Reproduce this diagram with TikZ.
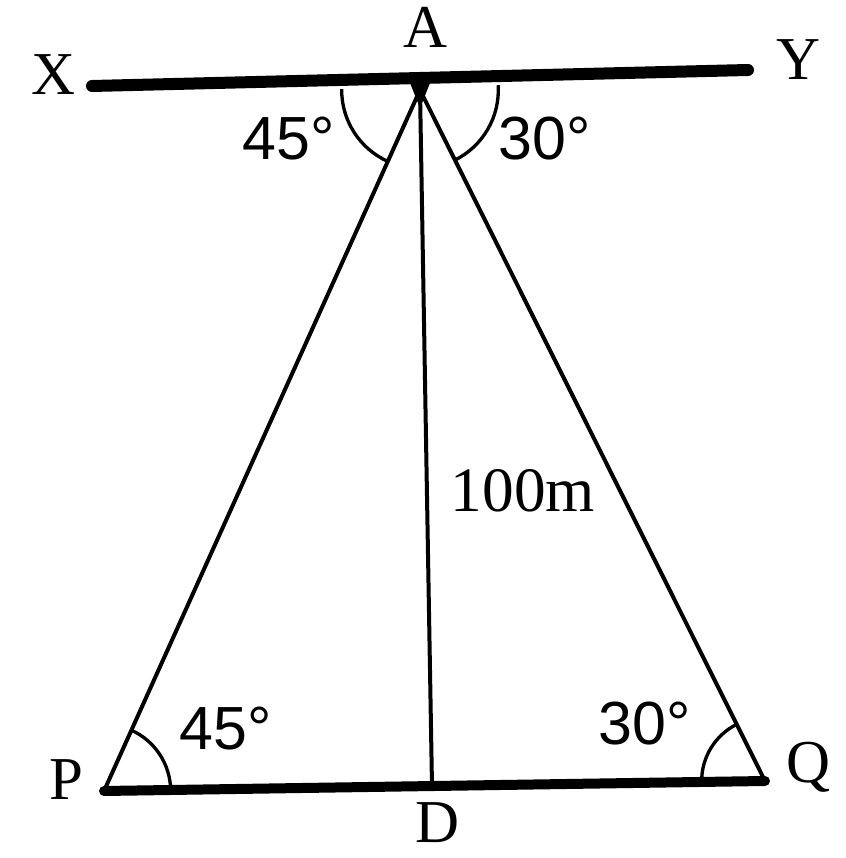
\documentclass[tikz,border=0pt]{standalone}
\usepackage{fontspec}
\setmainfont{Liberation Serif}
\newfontfamily\numfont{Liberation Sans}
\usetikzlibrary{angles}
\begin{document}
\begin{tikzpicture}[x=0.03cm,y=0.03cm,
  lbl/.style={font=\fontsize{52}{56}\selectfont,anchor=base,inner sep=0pt},
  deg/.style={font=\numfont\fontsize{52}{56}\selectfont,anchor=base,inner sep=0pt},
  meas/.style={font=\fontsize{54}{58}\selectfont,anchor=base,inner sep=0pt},
  thickline/.style={line width=0.36cm,line cap=round},
  baseline/.style={line width=0.3cm,line cap=round},
  thinline/.style={line width=0.12cm},
  arcmark/.style={draw,line width=0.1cm}]
\useasboundingbox (0,0) rectangle (846,858);
% points
\coordinate (X) at (92,772);
\coordinate (Y) at (748,788);
\coordinate (A) at (420,768);
\coordinate (P) at (104,67);
\coordinate (Q) at (765,77);
\coordinate (D) at (432,72);
% lines
\draw[thickline] (X) -- (Y);
\draw[baseline] (P) -- (Q);
\draw[thinline] (A) -- (P);
\draw[thinline] (A) -- (Q);
\draw[thinline] (A) -- (D);
\fill ([shift={(-12,12)}]A) -- ([shift={(12,12)}]A) -- ([shift={(0,-18)}]A) -- cycle;
% angle marks
\pic[arcmark,angle radius=2.35cm] {angle=X--A--P};
\pic[arcmark,angle radius=2.35cm] {angle=Q--A--Y};
\pic[arcmark,angle radius=2.0cm] {angle=Q--P--A};
\pic[arcmark,angle radius=1.9cm] {angle=A--Q--P};
% labels
\node[lbl] (lX) at (53,763) {X};
\node[lbl] (lY) at (798,778) {Y};
\node[lbl] (lA) at (425,810) {A};
\node[lbl] (lP) at (66,58) {P};
\node[lbl] (lQ) at (808,75) {Q};
\node[lbl] (lD) at (437,15) {D};
\node[deg] (a1) at (289,698) {45°};
\node[deg] (a2) at (545,698) {30°};
\node[deg] (a3) at (226,108) {45°};
\node[deg] (a4) at (645,113) {30°};
\node[meas] (h) at (523,346) {100m};
\end{tikzpicture}
\end{document}
